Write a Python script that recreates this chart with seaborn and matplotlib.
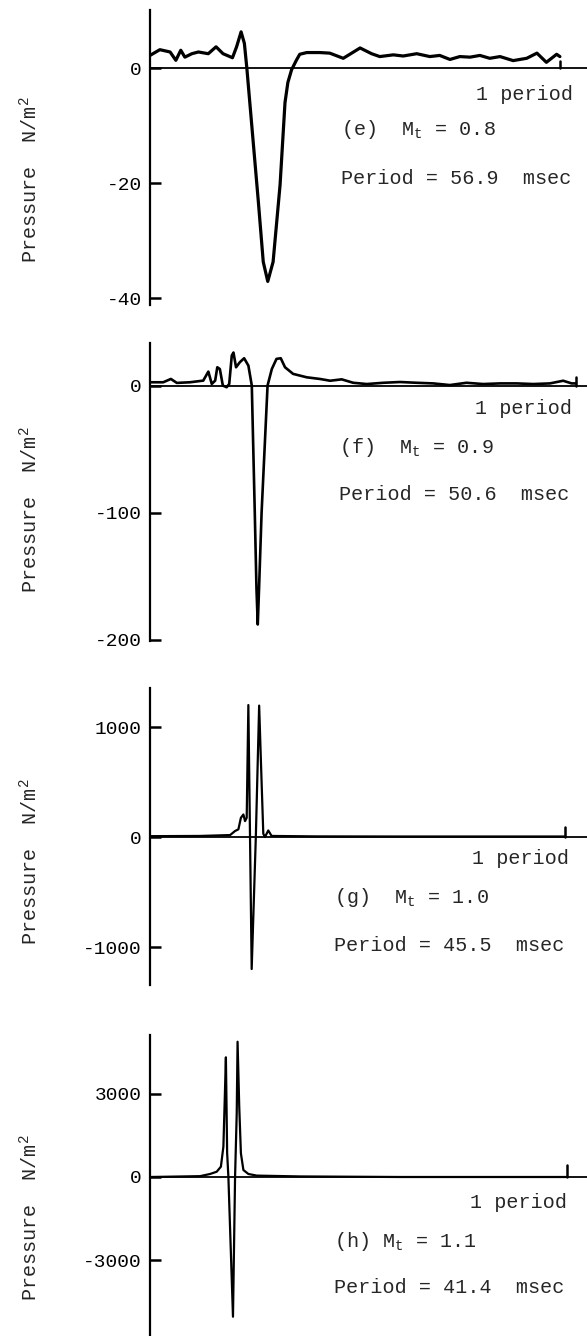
"""Pressure signatures over one period for four tip Mach numbers (e)-(h)."""

import matplotlib
matplotlib.use("Agg")
import matplotlib.pyplot as plt
import pandas as pd
import seaborn as sns

sns.set_theme(style="white", context="notebook")
plt.rcParams["font.family"] = ["Liberation Mono", "DejaVu Sans Mono"]
plt.rcParams["mathtext.fontset"] = "custom"
plt.rcParams["mathtext.rm"] = "Liberation Mono"
plt.rcParams["mathtext.it"] = "Liberation Mono"
plt.rcParams["axes.unicode_minus"] = False

# --------------------------------------------------------------------------- #
# Data (time in fractions of one period, pressure N/m^2)
# --------------------------------------------------------------------------- #
T_E = [0.000, 0.024, 0.049, 0.063, 0.075, 0.085, 0.102, 0.118, 0.142, 0.161,
       0.178, 0.201, 0.211, 0.222, 0.230, 0.236, 0.264, 0.276, 0.287, 0.300,
       0.317, 0.329, 0.336, 0.345, 0.357, 0.365, 0.382, 0.414, 0.438, 0.471,
       0.512, 0.540, 0.560, 0.593, 0.617, 0.650, 0.682, 0.706, 0.731, 0.755,
       0.780, 0.804, 0.828, 0.853, 0.885, 0.918, 0.943, 0.966, 0.991, 0.999]
P_E = [2.2, 3.2, 2.8, 1.35, 3.1, 1.9, 2.5, 2.8, 2.5, 3.7,
       2.5, 1.8, 3.7, 6.3, 4.3, 0.0, -23.2, -33.7, -37.1, -33.7,
       -20.3, -6.0, -2.5, -0.3, 1.4, 2.4, 2.7, 2.7, 2.6, 1.7,
       3.5, 2.5, 2.0, 2.3, 2.1, 2.5, 2.0, 2.2, 1.5, 2.0,
       1.9, 2.2, 1.7, 2.0, 1.3, 1.7, 2.6, 1.0, 2.4, 2.0]

T_F = [0.000, 0.031, 0.049, 0.063, 0.094, 0.125, 0.137, 0.145, 0.153, 0.158,
       0.164, 0.171, 0.180, 0.186, 0.192, 0.196, 0.202, 0.211, 0.221, 0.231,
       0.239, 0.246, 0.250, 0.253, 0.256, 0.262, 0.276, 0.286, 0.297, 0.307,
       0.317, 0.336, 0.368, 0.399, 0.423, 0.450, 0.477, 0.509, 0.548, 0.587,
       0.626, 0.665, 0.704, 0.743, 0.782, 0.822, 0.861, 0.900, 0.939, 0.970,
       0.990, 1.000]
P_F = [2.6, 2.6, 5.2, 2.1, 2.6, 3.9, 11.0, 1.3, 3.9, 14.4,
       13.0, 0.0, -1.3, 1.3, 23.6, 26.0, 14.4, 18.4, 21.5, 15.7,
       0.0, -100.0, -160.0, -188.0, -160.0, -100.0, 0.0, 13.0, 21.0, 21.5,
       14.4, 9.2, 6.5, 5.2, 3.8, 4.9, 2.2, 1.2, 2.2, 2.8,
       2.2, 1.7, 0.4, 2.2, 1.2, 1.7, 1.7, 1.2, 1.7, 3.8,
       1.7, 1.7]

T_G = [0.000, 0.120, 0.193, 0.205, 0.213, 0.219, 0.225, 0.229, 0.233, 0.237,
       0.241, 0.245, 0.255, 0.263, 0.267, 0.273, 0.277, 0.285, 0.293, 0.400,
       0.600, 0.800, 1.000]
P_G = [8, 10, 18, 55, 70, 175, 205, 145, 175, 1200,
       0, -1200, 0, 1195, 720, 30, 0, 60, 10, 6,
       5, 5, 5]

T_H = [0.000, 0.120, 0.144, 0.160, 0.170, 0.176, 0.179, 0.182, 0.185, 0.188,
       0.199, 0.204, 0.208, 0.210, 0.214, 0.218, 0.224, 0.236, 0.256, 0.360,
       0.600, 1.000]
P_H = [0, 30, 108, 190, 370, 1090, 2660, 4300, 860, 0,
       -5020, 0, 2300, 4860, 2530, 850, 250, 108, 50, 20,
       0, 0]

LETTERS = ["e", "f", "g", "h"]
MACH = ["0.8", "0.9", "1.0", "1.1"]
PERIOD_MS = ["56.9", "50.6", "45.5", "41.4"]
Y_TICKS = [[0, -20, -40], [0, -100, -200], [1000, 0, -1000], [3000, 0, -3000]]
Y_LIMITS = [(-41.2, 10.1), (-201, 33.5), (-1345, 1355), (-5713, 5102)]
X_RIGHT = [1.065, 1.026, 1.053, 1.048]
MARK_HEIGHT = [1.2, 7.0, 94.0, 430.0]   # the short "1 period" trigger mark

TRACES = [(T_E, P_E), (T_F, P_F), (T_G, P_G), (T_H, P_H)]

# --------------------------------------------------------------------------- #
# Layout (pixels of the 587 x 1336 page)
# --------------------------------------------------------------------------- #
W, H = 587, 1336
AX_LEFT = 150
AX_SPAN = [(10, 305), (343, 641), (688, 985), (1035, 1336)]
LINE_W = [2.3, 1.9, 1.6, 1.6]
TXT_PERIOD = [(573, 100), (572, 414), (569, 864), (567, 1208)]
TXT_MACH = [(341, 135), (339, 453), (334, 903), (334, 1247)]
TXT_MS = [(341, 184), (339, 500), (334, 951), (334, 1293)]
YLAB_Y = [180, 510, 862, 1218]
FS = 14.5


def fx(px):
    return px / W


def fy(py):
    return 1 - py / H


fig = plt.figure(figsize=(W / 100, H / 100), dpi=100)

for i, (t, p) in enumerate(TRACES):
    top, bot = AX_SPAN[i]
    ax = fig.add_axes([fx(AX_LEFT), fy(bot), 1 - fx(AX_LEFT), (bot - top) / H])
    df = pd.DataFrame({"t": t, "p": p})
    sns.lineplot(data=df, x="t", y="p", ax=ax, color="black", lw=LINE_W[i],
                 sort=False, estimator=None, solid_joinstyle="round")
    ax.axhline(0, color="black", lw=1.3)
    ax.plot([1, 1], [0, MARK_HEIGHT[i]], color="black", lw=1.8)

    ax.set_xlim(0, X_RIGHT[i])
    ax.set_ylim(*Y_LIMITS[i])
    ax.set_yticks(Y_TICKS[i])
    ax.set_yticklabels([str(v) for v in Y_TICKS[i]], fontsize=FS - 0.5)
    ax.set_xticks([])
    ax.set_xlabel("")
    ax.set_ylabel("")
    ax.tick_params(axis="y", direction="in", length=8, width=1.8, pad=6,
                   left=True, colors="black")
    for side in ("top", "right", "bottom"):
        ax.spines[side].set_visible(False)
    ax.spines["left"].set_linewidth(1.6)
    ax.spines["left"].set_color("black")
    ax.patch.set_alpha(0)

    px, py = TXT_PERIOD[i]
    fig.text(fx(px), fy(py), "1 period", ha="right", va="baseline", fontsize=FS)
    px, py = TXT_MACH[i]
    gap = "  " if LETTERS[i] != "h" else " "
    fig.text(fx(px), fy(py), f"({LETTERS[i]}){gap}M$_t$ = {MACH[i]}",
             ha="left", va="baseline", fontsize=FS)
    px, py = TXT_MS[i]
    fig.text(fx(px), fy(py), f"Period = {PERIOD_MS[i]}  msec",
             ha="left", va="baseline", fontsize=FS)
    fig.text(fx(30), fy(YLAB_Y[i]), "Pressure  N/m$^2$", rotation=90,
             ha="center", va="center", fontsize=FS)

fig.savefig("out.png", dpi=100)
